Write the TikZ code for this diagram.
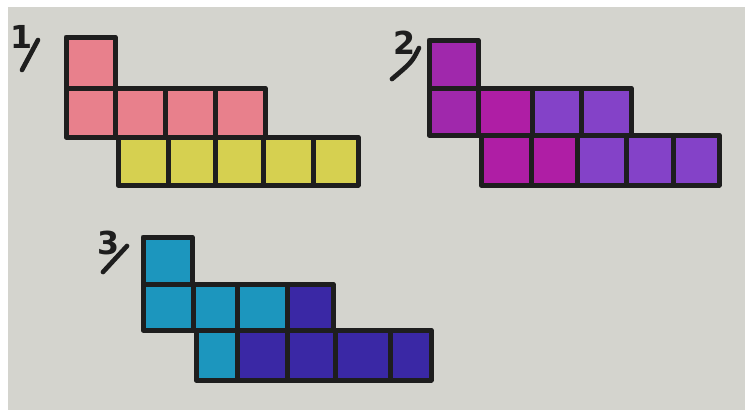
\documentclass[tikz,border=0pt]{standalone}
\usepackage{fontspec}
\setsansfont{DejaVu Sans}
\definecolor{paper}{RGB}{212,212,206}
\definecolor{ink}{RGB}{30,30,30}
\definecolor{pinkc}{RGB}{232,128,140}
\definecolor{yellowc}{RGB}{214,208,80}
\definecolor{magentac}{RGB}{160,40,172}
\definecolor{magbright}{RGB}{175,30,165}
\definecolor{violetc}{RGB}{132,66,200}
\definecolor{tealc}{RGB}{28,150,190}
\definecolor{indigoc}{RGB}{58,40,165}
\tikzset{
  cellbox/.style={draw=ink, line width=0.15cm, line join=round},
  numlabel/.style={text=ink, font=\sffamily\bfseries\fontsize{27}{27}\selectfont, inner sep=0pt},
  slash/.style={draw=ink, line width=0.14cm, line cap=round}
}
\begin{document}
\begin{tikzpicture}[x=0.03cm, y=-0.03cm]
        % Photo frame
        \fill[white] (0,0) rectangle (752,410);
        \fill[paper] (8,7) rectangle (745,410);
        \useasboundingbox (0,0) rectangle (752,410);

        % Figure 1
        \node[numlabel] (n1) at (22,37) {1};
        \coordinate (s1a) at (38,40);
        \coordinate (s1b) at (22,70);
        \draw[slash] (s1a) -- (s1b);
        \filldraw[cellbox, fill=pinkc] (66,37) rectangle (115,88);
        \foreach \xa/\xb in {66/115, 115/165, 165/215, 215/265}
          \filldraw[cellbox, fill=pinkc] (\xa,88) rectangle (\xb,137);
        \foreach \xa/\xb in {118/168, 168/215, 215/263, 263/313, 313/358}
          \filldraw[cellbox, fill=yellowc] (\xa,137) rectangle (\xb,185);

        % Figure 2
        \node[numlabel] (n2) at (405,43) {2};
        \coordinate (s2a) at (419,48);
        \coordinate (s2b) at (392,79);
        \draw[slash] (s2a) .. controls (412,62) .. (s2b);
        \filldraw[cellbox, fill=magentac] (429,40) rectangle (478,88);
        \foreach \xa/\xb/\c in {429/478/magentac, 478/532/magbright, 532/581/violetc, 581/631/violetc}
          \filldraw[cellbox, fill=\c] (\xa,88) rectangle (\xb,135);
        \foreach \xa/\xb/\c in {481/531/magbright, 531/577/magbright, 577/626/violetc, 626/673/violetc, 673/719/violetc}
          \filldraw[cellbox, fill=\c] (\xa,135) rectangle (\xb,185);

        % Figure 3
        \node[numlabel] (n3) at (109,243) {3};
        \coordinate (s3a) at (127,246);
        \coordinate (s3b) at (103,272);
        \draw[slash] (s3a) -- (s3b);
        \filldraw[cellbox, fill=tealc] (143,237) rectangle (192,284);
        \foreach \xa/\xb/\c in {143/193/tealc, 193/237/tealc, 237/287/tealc, 287/333/indigoc}
          \filldraw[cellbox, fill=\c] (\xa,284) rectangle (\xb,330);
        \foreach \xa/\xb/\c in {196/237/tealc, 237/287/indigoc, 287/335/indigoc, 335/390/indigoc, 390/431/indigoc}
          \filldraw[cellbox, fill=\c] (\xa,330) rectangle (\xb,380);
\end{tikzpicture}
\end{document}
